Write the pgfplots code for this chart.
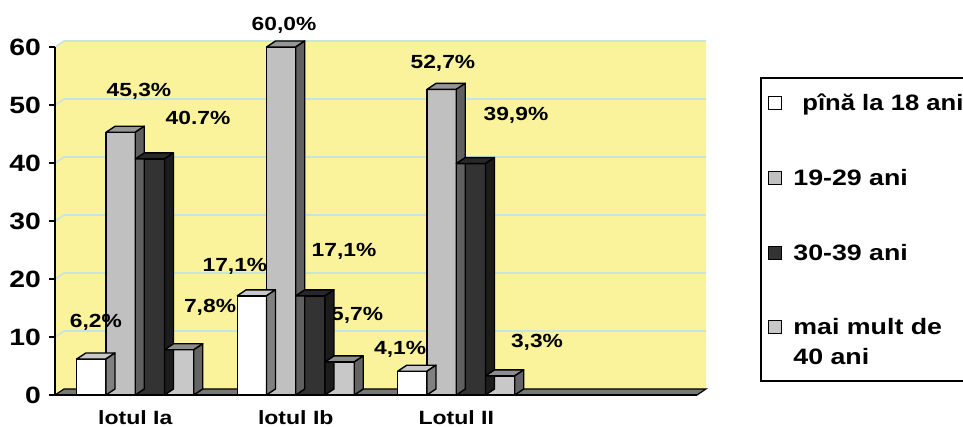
\documentclass[border=0pt]{standalone}
\usepackage{pgfplots}
\pgfplotsset{compat=1.18}
\usepackage{pgfplotstable}
\usepackage{fontspec}
\setmainfont{Liberation Sans}
\usepackage{graphicx}
\usetikzlibrary{calc}

\definecolor{wallyellow}{RGB}{250,243,155}
\definecolor{gridc}{RGB}{200,228,222}
\definecolor{floorgray}{RGB}{120,120,120}
\definecolor{frontW}{RGB}{255,255,255}
\definecolor{topW}{RGB}{200,200,200}
\definecolor{sideW}{RGB}{128,128,128}
\definecolor{frontG}{RGB}{192,192,192}
\definecolor{topG}{RGB}{150,150,150}
\definecolor{sideG}{RGB}{96,96,96}
\definecolor{frontD}{RGB}{51,51,51}
\definecolor{topD}{RGB}{40,40,40}
\definecolor{sideD}{RGB}{28,28,28}
\definecolor{frontL}{RGB}{200,200,200}
\definecolor{topL}{RGB}{140,140,140}
\definecolor{sideL}{RGB}{100,100,100}

\newcommand{\sx}[1]{\scalebox{1.2}[1]{#1}}
\pgfdeclareplotmark{nothing}{}

\pgfplotstableread{
x a b c d
0.5 6.2 45.3 40.7 7.8
1.5 17.1 60.0 17.1 5.7
2.5 4.1 52.7 39.9 3.3
}\data

\pgfplotsset{
  depth3d/.style n args={3}{%
    forget plot, only marks, scatter, mark=nothing,
    visualization depends on={rawy \as \rawy},
    scatter/@pre marker code/.code={%
      \pgfmathsetlengthmacro\hh{\rawy*2.9pt}%
      \filldraw[fill=#2, draw=black, line width=0.7pt, line join=round]
        ({#1-7.3pt},0pt) -- ({#1+7.3pt},0pt) -- ({#1+11.8pt},3pt) -- ({#1-2.8pt},3pt) -- cycle;
      \filldraw[fill=#3, draw=black, line width=0.7pt, line join=round]
        ({#1+7.3pt},0pt) -- ({#1+11.8pt},3pt) -- ({#1+11.8pt},{3pt-\hh}) -- ({#1+7.3pt},{-\hh}) -- cycle;
    },
    scatter/@post marker code/.code={},
  },
  front/.style n args={2}{%
    forget plot, ybar, bar width=14.6pt, bar shift=#1, fill=#2, draw=black, line width=0.7pt,
  },
}
\tikzset{lab/.style={font=\bfseries\fontsize{9.5}{11}\selectfont, inner sep=0pt, anchor=center}}

\begin{document}
\begin{tikzpicture}
\begin{axis}[
  x=80.25pt, y=2.9pt,
  xmin=0, xmax=4, ymin=0, ymax=60,
  axis lines*=left,
  axis on top,
  clip=false,
  axis line style={line width=0.8pt, black},
  tick align=outside,
  major tick length=3pt,
  tick style={line width=0.8pt, black},
  ytick={0,10,...,60},
  xtick={0.5,1.5,2.5},
  xticklabels={\sx{lotul Ia},\sx{lotul Ib},\sx{Lotul II}},
  major x tick style={draw=none},
  extra x ticks={0,1,2,3,4},
  extra x tick labels={},
  extra x tick style={tick style={line width=0.8pt, black}, major tick length=3pt},
  /pgf/number format/assume math mode=true,
  yticklabel={\sx{\pgfmathprintnumber{\tick}}},
  yticklabel style={font=\bfseries\fontsize{11.8}{13}\selectfont, xshift=-0.5pt},
  xticklabel style={font=\bfseries\fontsize{9.6}{11}\selectfont, yshift=-1.3pt},
]
\coordinate (O) at (axis cs:0,0);
% back wall
\fill[wallyellow] (axis cs:0,0) -- (axis cs:0,60) -- ++(4.5pt,3pt)
   -- ($(axis cs:4,60)+(4.5pt,3pt)$) -- ($(axis cs:4,0)+(4.5pt,3pt)$) -- (axis cs:4,0) -- cycle;
\pgfplotsinvokeforeach{10,20,30,40,50,60}{
  \draw[gridc, line width=0.8pt] (axis cs:0,#1) -- ++(4.5pt,3pt) -- ($(axis cs:4,#1)+(4.5pt,3pt)$);
}
% floor
\filldraw[fill=floorgray, draw=black, line width=0.6pt] (axis cs:0,0) -- (axis cs:4,0) -- ++(4.5pt,3pt)
   -- ($(axis cs:0,0)+(4.5pt,3pt)$) -- cycle;

% label partly hidden behind the bars in the reference
\node[lab] at (axis cs:1.882,13.8) {\sx{5,7\%}};

% bars: pina la 18 ani
\addplot[depth3d={-21.95pt}{topW}{sideW}] table[x=x,y=a] {\data};
\addplot[front={-21.95pt}{frontW}] table[x=x,y=a] {\data};
% 19-29 ani
\addplot[depth3d={-7.3pt}{topG}{sideG}] table[x=x,y=b] {\data};
\addplot[front={-7.3pt}{frontG}] table[x=x,y=b] {\data};
% 30-39 ani
\addplot[depth3d={7.3pt}{topD}{sideD}] table[x=x,y=c] {\data};
\addplot[front={7.3pt}{frontD}] table[x=x,y=c] {\data};
% mai mult de 40 ani
\addplot[depth3d={21.95pt}{topL}{sideL}] table[x=x,y=d] {\data};
\addplot[front={21.95pt}{frontL}] table[x=x,y=d] {\data};

% data labels
\node[lab] at (axis cs:0.255,12.6) {\sx{6,2\%}};
\node[lab] at (axis cs:0.523,52.4) {\sx{45,3\%}};
\node[lab] at (axis cs:0.891,47.8) {\sx{40.7\%}};
\node[lab] at (axis cs:0.966,15.2) {\sx{7,8\%}};
\node[lab] at (axis cs:1.121,22.2) {\sx{17,1\%}};
\node[lab] at (axis cs:1.427,63.8) {\sx{60,0\%}};
\node[lab] at (axis cs:1.801,24.7) {\sx{17,1\%}};
\node[lab] at (axis cs:2.150,7.9) {\sx{4,1\%}};
\node[lab] at (axis cs:2.417,57.2) {\sx{52,7\%}};
\node[lab] at (axis cs:2.872,48.3) {\sx{39,9\%}};
\node[lab] at (axis cs:3.003,9.1) {\sx{3,3\%}};
\end{axis}

% legend
\begin{scope}[shift={(O)}]
\draw[line width=0.8pt] (353pt,7pt) rectangle (470pt,158.5pt);
\draw[line width=0.5pt, fill=frontW] (356.5pt,142.75pt) rectangle ++(6.5pt,6.5pt);
\draw[line width=0.5pt, fill=frontG] (356.5pt,105.25pt) rectangle ++(6.5pt,6.5pt);
\draw[line width=0.5pt, fill=frontD] (356.5pt,67.75pt) rectangle ++(6.5pt,6.5pt);
\draw[line width=0.5pt, fill=frontL] (356.5pt,30.75pt) rectangle ++(6.5pt,6.5pt);
\begin{scope}[every node/.style={anchor=base west, inner sep=0pt, font=\bfseries\fontsize{11.15}{13}\selectfont}]
\node at (373.5pt,142pt) {\scalebox{1.15}[1]{pînă la 18 ani}};
\node at (369pt,104.5pt) {\sx{19-29 ani}};
\node at (369pt,67pt) {\sx{30-39 ani}};
\node at (369pt,30pt) {\sx{mai mult de}};
\node at (369pt,15pt) {\sx{40 ani}};
\end{scope}
\end{scope}

\pgfresetboundingbox
\path[use as bounding box] ($(O)+(-27.5pt,-16pt)$) rectangle ($(O)+(454pt,197.5pt)$);
\end{tikzpicture}
\end{document}
